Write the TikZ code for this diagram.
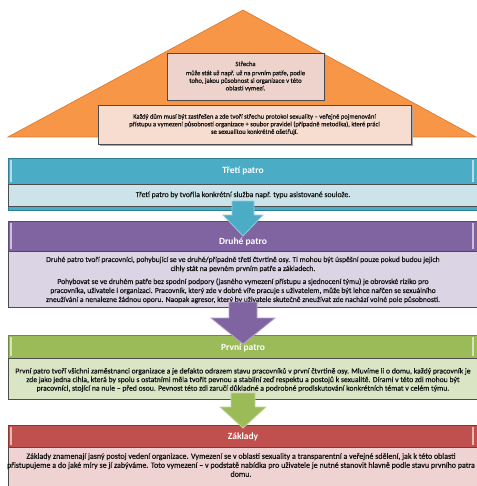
\documentclass[tikz,border=0pt]{standalone}
\usepackage{fontspec}
\setmainfont{Carlito}
\newfontfamily\semibfont{Carlito}[FakeBold=0.6]
\definecolor{roofor}{HTML}{F79646}
\definecolor{roofedge}{HTML}{D9772F}
\definecolor{roofbox}{HTML}{EDD3CB}
\definecolor{roofbox2}{HTML}{F7DDD0}
\definecolor{teal}{HTML}{4BACC6}
\definecolor{tealedge}{HTML}{2E7F95}
\definecolor{tealbody}{HTML}{CCE3EA}
\definecolor{purp}{HTML}{8064A2}
\definecolor{purpedge}{HTML}{5C4779}
\definecolor{purpbody}{HTML}{DAD4E4}
\definecolor{grn}{HTML}{9BBB59}
\definecolor{grnedge}{HTML}{71893F}
\definecolor{grnbody}{HTML}{DAE5C6}
\definecolor{redh}{HTML}{C0504D}
\definecolor{rededge}{HTML}{8E3532}
\definecolor{redbody}{HTML}{EFD3D2}
\definecolor{txt}{HTML}{141414}
\tikzset{
  headtxt/.style={text=white, font=\fontsize{9.5}{11}\selectfont\bfseries, inner sep=0pt},
  bodytxt/.style={text=txt, align=center, inner sep=0pt, font=\semibfont\fontsize{7.8}{8.8}\selectfont},
  rooftxt/.style={text=txt, align=center, inner sep=0pt, font=\semibfont\fontsize{6.6}{7.6}\selectfont},
  boxline/.style={draw=black!70, line width=0.5pt},
  accent/.style={draw=white, opacity=0.6, line width=1.2pt},
}
\begin{document}
\begin{tikzpicture}[x=1pt,y=-1pt]
\useasboundingbox (0,0) rectangle (476,486);
\fill[white] (0,0) rectangle (476,486);

% ---------- roof ----------
\fill[roofor, draw=roofedge, line width=0.6pt] (8,137) -- (243,10) -- (476,137) -- cycle;
\fill[black!35] (169,55) rectangle (326,102);
\fill[roofbox, boxline] (167,53) rectangle (324,100);
\node[rooftxt] (roofa) at (245.5,76.5) {Střecha\\[1.5pt] může stát už např.  už na prvním patře, podle\\ toho, jakou působnost  si organizace v této\\ oblasti vymezí.};
\fill[black!35] (100,107) rectangle (413,146);
\fill[roofbox2, boxline] (98,105) rectangle (411,144);
\node[rooftxt] (roofb) at (254.5,124.5) {Každý dům musí být zastřešen a zde tvoří střechu protokol sexuality – veřejné pojmenování\\ přístupu a vymezení působnosti  organizace + soubor  pravidel (případně  metodika), které práci\\ se sexualitou konkrétně ošetřují.};

% ---------- third floor ----------
\fill[teal, draw=tealedge, line width=0.5pt] (8,158) rectangle (478,210);
\draw[accent] (11,160) -- (11,182);
\draw[accent] (473,160) -- (473,182);
\node[headtxt] (h3) at (243,171) {Třetí patro};
\fill[tealbody, boxline] (8,184) rectangle (478,206);
\node[bodytxt] (b3) at (243,195) {Třetí patro by tvořila konkrétní služba např. typu asistované soulože.};

% ---------- second floor ----------
\fill[purp, draw=purpedge, line width=0.5pt] (8,221) rectangle (478,251);
\draw[accent] (11,223) -- (11,249);
\draw[accent] (473,223) -- (473,249);
\node[headtxt] (h2) at (243,242) {Druhé patro};
\fill[purpbody, boxline] (8,251) rectangle (478,307);
\node[bodytxt, font=\semibfont\fontsize{7.6}{9}\selectfont] (b2) at (243,280) {Druhé patro tvoří pracovníci,  pohybující se ve druhé/případně třetí čtvrtině osy.  Ti mohou být úspěšní pouze pokud budou jejich\\ cihly stát na pevném prvním patře a základech.\\[4pt]
Pohybovat se ve druhém patře bez spodní podpory (jasného vymezení přístupu a sjednocení týmu) je obrovské riziko pro\\ pracovníka, uživatele i organizaci.  Pracovník,  který zde v dobré víře pracuje  s uživatelem, může být lehce nařčen se sexuálního\\ zneužívání a nenalezne žádnou oporu. Naopak agresor, který by uživatele skutečně zneužívat zde nachází  volné pole působnosti.};

% ---------- first floor ----------
\fill[grn, draw=grnedge, line width=0.5pt] (8,335) rectangle (478,358);
\draw[accent] (11,337) -- (11,356);
\draw[accent] (473,337) -- (473,356);
\node[headtxt] (h1) at (243,348) {První patro};
\fill[grnbody, boxline] (8,358) rectangle (478,399);
\node[bodytxt, font=\semibfont\fontsize{7.7}{8.6}\selectfont] (b1) at (243,380) {První patro tvoří všichni zaměstnanci organizace a je defakto odrazem stavu pracovníků v první čtvrtině osy. Mluvíme li o domu, každý pracovník je\\ zde jako jedna cihla, která by spolu s ostatními měla tvořit pevnou a stabilní zeď respektu a postojů k sexualitě. Dírami v této zdi mohou  být\\ pracovníci, stojící na nule – před osou. Pevnost této zdi zaručí důkladné  a podrobné  prodiskutování  konkrétních témat v celém týmu.};

% ---------- foundations ----------
\fill[redh, draw=rededge, line width=0.5pt] (8,425) rectangle (478,447);
\draw[accent] (11,427) -- (11,445);
\draw[accent] (473,427) -- (473,445);
\node[headtxt] (h0) at (243,437) {Základy};
\fill[redbody, boxline] (8,447) rectangle (478,490);
\node[bodytxt, font=\semibfont\fontsize{8}{9}\selectfont] (b0) at (241,465) {Základy znamenají jasný postoj  vedení organizace.  Vymezení se v oblasti sexuality a transparentní  a veřejné sdělení, jak k této oblasti\\ přistupujeme a do jaké míry se jí zabýváme. Toto vymezení – v podstatě nabídka pro uživatele je nutné  stanovit hlavně podle stavu prvního patra\\ domu.};

% ---------- arrows ----------
\fill[teal, draw=teal!60!white, line width=0.8pt] (232,201) -- (254,201) -- (254,215) -- (263,215) -- (243,236) -- (223,215) -- (232,215) -- cycle;
\fill[purp, draw=purp!60!white, line width=0.8pt] (229,302) -- (257,302) -- (257,318) -- (275,318) -- (243,344) -- (211,318) -- (229,318) -- cycle;
\fill[grn, draw=grn!60!white, line width=0.8pt] (231,393) -- (255,393) -- (255,407) -- (266,407) -- (243,428) -- (220,407) -- (231,407) -- cycle;
\end{tikzpicture}
\end{document}
